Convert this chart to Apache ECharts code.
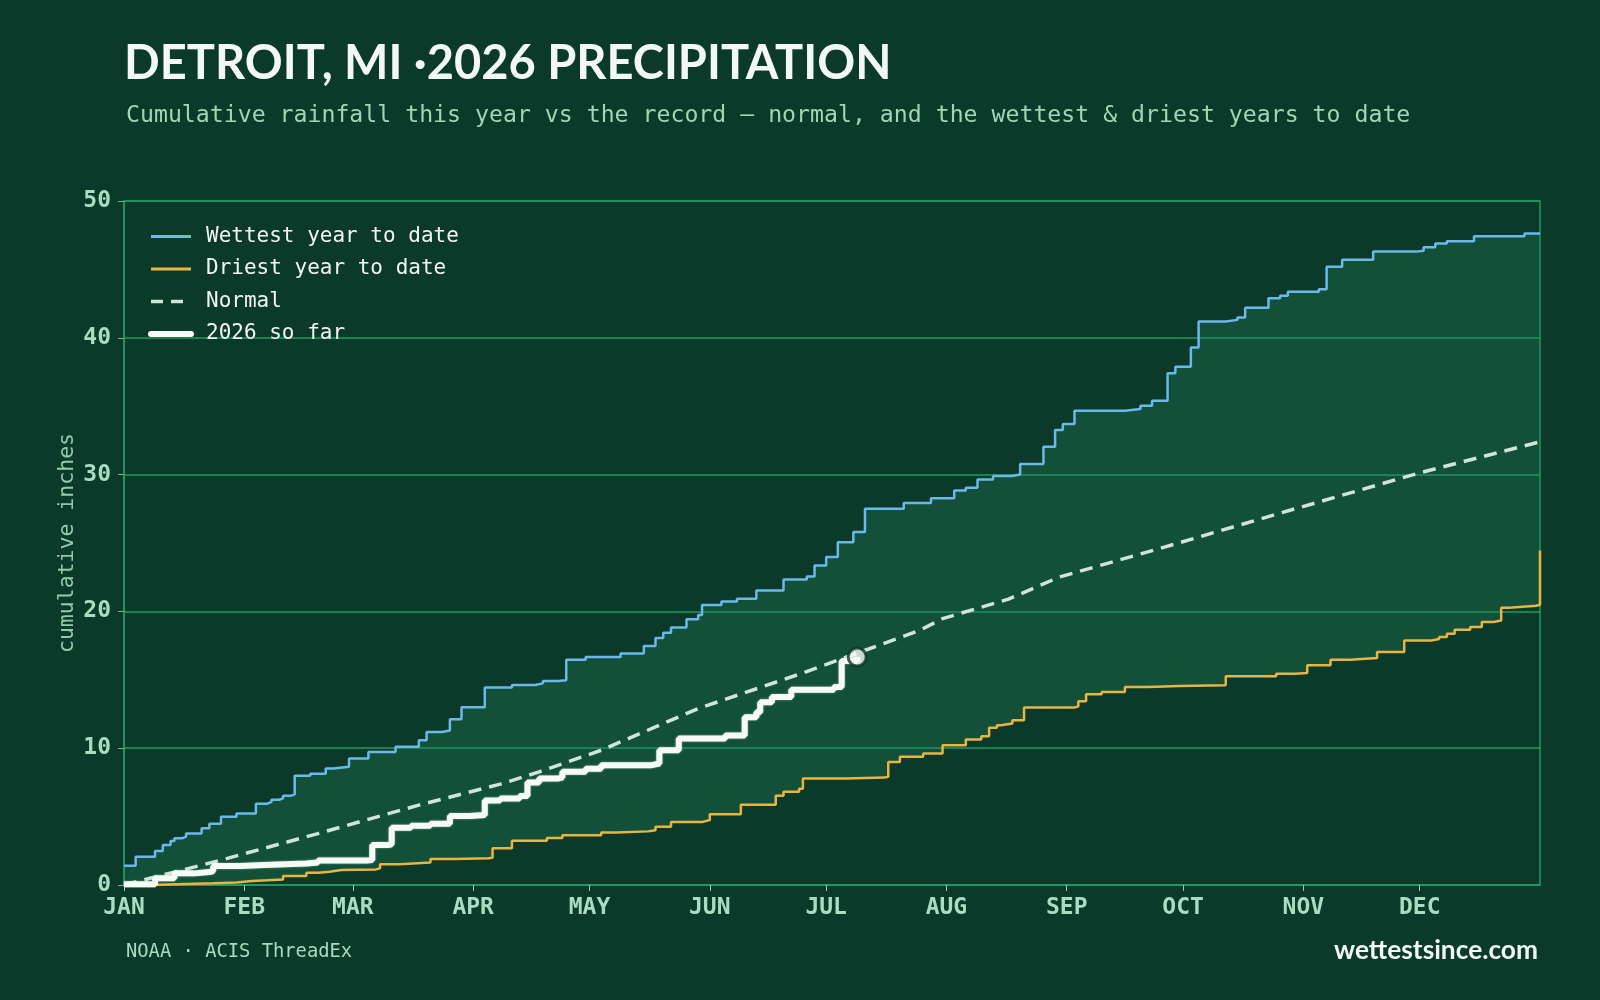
<!DOCTYPE html>
<html>
<head>
	<title>detroit precipitation</title>
	<meta charset="utf-8">
	<style>
		html, body {
			margin: 0;
			padding: 0;
			background: #0c3a2a;
		}
		#chart {
			width: 1600px;
			height: 1000px;
		}
	</style>
	<script src="https://cdn.jsdelivr.net/npm/echarts@6/dist/echarts.min.js"></script>
</head>
<body>

<div id="chart"></div>

<script>

var monthNames = ['JAN', 'FEB', 'MAR', 'APR', 'MAY', 'JUN', 'JUL', 'AUG', 'SEP', 'OCT', 'NOV', 'DEC'];
var monthStartDays = [0, 31, 59, 90, 120, 151, 181, 212, 243, 273, 304, 334];
var yTicks = [0, 10, 20, 30, 40, 50];

// [day of year, cumulative inches after that day's rain]
var wettestYear = [[0, 1.4], [3, 2.07], [8, 2.48], [10, 2.92], [12, 3.21], [13, 3.41], [15, 3.53], [16, 3.77], [20, 4.14], [22, 4.48], [25, 4.99], [29, 5.23], [34, 5.94], [37, 6.08], [38, 6.23], [40, 6.33], [41, 6.52], [43, 6.62], [44, 7.98], [48, 8.13], [52, 8.52], [54, 8.64], [58, 9.25], [63, 9.73], [70, 10.1], [76, 10.58], [78, 11.19], [82, 11.29], [84, 12.12], [87, 13.0], [93, 14.43], [100, 14.62], [106, 14.74], [108, 14.91], [112, 14.96], [114, 16.47], [119, 16.67], [128, 16.93], [134, 17.47], [137, 18.05], [139, 18.44], [141, 18.83], [145, 19.42], [148, 19.73], [149, 20.46], [154, 20.73], [158, 20.92], [163, 21.53], [170, 22.34], [176, 22.55], [178, 23.36], [181, 23.97], [184, 25.06], [188, 25.8], [191, 27.5], [201, 27.93], [208, 28.27], [214, 28.83], [217, 29.03], [220, 29.64], [224, 29.9], [229, 30.0], [231, 30.78], [237, 32.04], [240, 33.26], [242, 33.7], [245, 34.67], [258, 34.79], [262, 35.04], [265, 35.4], [269, 37.4], [271, 37.88], [275, 39.3], [277, 41.19], [284, 41.31], [287, 41.48], [289, 42.2], [295, 42.9], [298, 43.07], [300, 43.36], [308, 43.55], [310, 45.2], [314, 45.7], [322, 46.3], [333, 46.37], [335, 46.62], [338, 46.89], [341, 47.06], [348, 47.42], [361, 47.62], [365, 47.62]];

var driestYear = [[0, 0], [7, 0.07], [16, 0.12], [23, 0.19], [29, 0.29], [33, 0.34], [37, 0.41], [41, 0.66], [47, 0.9], [50, 0.97], [53, 1.09], [56, 1.14], [65, 1.22], [66, 1.51], [71, 1.65], [79, 1.9], [85, 1.95], [94, 2.0], [95, 2.68], [100, 3.24], [109, 3.43], [113, 3.63], [123, 3.84], [127, 3.92], [135, 4.01], [137, 4.26], [141, 4.6], [149, 4.74], [151, 5.18], [159, 5.86], [168, 6.52], [170, 6.81], [174, 7.03], [175, 7.79], [186, 7.85], [196, 7.91], [197, 9.0], [200, 9.37], [206, 9.61], [211, 10.22], [217, 10.63], [221, 10.88], [223, 11.5], [225, 11.68], [226, 11.8], [229, 12.04], [232, 12.97], [245, 13.07], [246, 13.43], [248, 13.94], [252, 14.11], [258, 14.48], [264, 14.55], [272, 14.6], [284, 15.26], [297, 15.45], [302, 15.5], [305, 16.06], [311, 16.47], [316, 16.6], [323, 17.03], [330, 17.88], [337, 17.98], [339, 18.13], [341, 18.37], [343, 18.66], [347, 18.86], [350, 19.22], [353, 19.34], [355, 20.27], [357, 20.41], [364, 20.49], [365, 24.45]];

var normalYear = [[0, 0], [25, 1.82], [50, 3.76], [76, 5.84], [97, 7.37], [107, 8.27], [123, 9.85], [148, 12.9], [174, 15.4], [205, 18.6], [211, 19.47], [228, 20.9], [241, 22.5], [262, 24.2], [267, 24.6], [297, 27.1], [333, 30.05], [365, 32.4]];

var thisYear = [[0, 0.05], [8, 0.49], [13, 0.85], [18, 0.95], [22, 1.02], [23, 1.39], [30, 1.47], [36, 1.58], [47, 1.65], [50, 1.8], [63, 1.82], [64, 2.92], [68, 2.97], [69, 4.18], [74, 4.33], [79, 4.48], [84, 5.04], [89, 5.11], [93, 6.18], [97, 6.33], [102, 6.5], [104, 7.5], [107, 7.79], [112, 7.85], [113, 8.27], [119, 8.5], [123, 8.76], [136, 8.88], [138, 9.85], [143, 10.7], [155, 10.92], [160, 12.27], [163, 12.62], [164, 13.35], [167, 13.75], [172, 14.28], [183, 14.48], [185, 16.37], [189, 16.67]];

var today = [[189, 16.67]];

var green = '#1c9a64';
var labelGreen = '#a9dcc0';
var mono = '"DejaVu Sans Mono", monospace';

// step-end outline: hold the previous total until the next rain day
function stepPoints (points) {
	var out = [];
	points.forEach(function (p, i) {
		if (i > 0) {
			out.push([p[0], points[i - 1][1]]);
		}
		out.push(p);
	});
	return out;
}

var chart = echarts.init(document.getElementById('chart'));

var option = {
	backgroundColor: '#0c3a2a',
	animation: false,
	title: [
		{
			text: 'DETROIT, MI ·2026 PRECIPITATION',
			left: 119,
			top: 35,
			textStyle: { fontFamily: 'Lato', fontWeight: 700, fontSize: 47, color: '#f2f8f4' }
		},
		{
			text: 'Cumulative rainfall this year vs the record — normal, and the wettest & driest years to date',
			left: 121,
			top: 99,
			textStyle: { fontFamily: mono, fontWeight: 400, fontSize: 23.2, color: '#9fd6b6' }
		},
		{
			text: 'NOAA · ACIS ThreadEx',
			left: 121,
			top: 938,
			textStyle: { fontFamily: mono, fontWeight: 400, fontSize: 18.8, color: '#a9dcc0' }
		},
		{
			text: 'wettestsince.com',
			right: 57,
			top: 933,
			textStyle: { fontFamily: 'Lato', fontWeight: 700, fontSize: 26.3, color: '#f2f8f4' }
		}
	],
	legend: {
		data: [
			{ name: 'Wettest year to date', lineStyle: { width: 3 } },
			{ name: 'Driest year to date', lineStyle: { width: 3 } },
			{ name: 'Normal', lineStyle: { width: 3.5, type: [12, 8] } },
			{ name: '2026 so far', lineStyle: { width: 6, cap: 'round' } }
		],
		orient: 'vertical',
		left: 143,
		top: 221,
		itemWidth: 40,
		itemHeight: 14,
		itemGap: 11.5,
		itemStyle: { opacity: 0 },
		textStyle: { fontFamily: mono, fontSize: 21, color: '#f2f6f3', padding: [0, 0, 0, 10] }
	},
	grid: {
		left: 124,
		right: 60,
		top: 201,
		bottom: 115,
		show: true,
		borderColor: green,
		borderWidth: 1.5,
		backgroundColor: 'transparent'
	},
	xAxis: {
		type: 'value',
		min: 0,
		max: 365,
		splitLine: { show: false },
		axisLine: { show: true, lineStyle: { color: green, width: 1.5 } },
		axisTick: {
			show: true,
			length: 6,
			customValues: monthStartDays,
			lineStyle: { color: '#9fc9b2' }
		},
		axisLabel: {
			customValues: monthStartDays,
			margin: 12,
			fontFamily: mono,
			fontWeight: 700,
			fontSize: 23,
			color: labelGreen,
			formatter: function (value) {
				var i = monthStartDays.indexOf(value);
				return i >= 0 ? monthNames[i] : '';
			}
		}
	},
	yAxis: {
		type: 'value',
		min: yTicks[0],
		max: yTicks[yTicks.length - 1],
		interval: 10,
		name: 'cumulative inches',
		nameLocation: 'middle',
		nameRotate: 90,
		nameGap: 46,
		nameMoveOverlap: false,
		nameTextStyle: { fontFamily: mono, fontSize: 21.5, color: '#8fcbaa' },
		axisLine: { show: true, lineStyle: { color: green, width: 1.5 } },
		axisTick: { show: true, length: 6, lineStyle: { color: '#8fa89a' } },
		axisLabel: {
			margin: 13,
			fontFamily: mono,
			fontWeight: 700,
			fontSize: 23,
			color: labelGreen
		},
		splitLine: { show: true, lineStyle: { color: green, width: 1.5 } }
	},
	series: [
		{
			name: 'band',
			type: 'custom',
			silent: true,
			z: 1,
			data: [[0, 0]],
			renderItem: function (params, api) {
				var top = stepPoints(wettestYear);
				var bottom = stepPoints(driestYear).reverse();
				var pts = top.concat(bottom).map(function (p) {
					return api.coord(p);
				});
				return {
					type: 'polygon',
					shape: { points: pts },
					style: { fill: 'rgba(34, 130, 90, 0.31)' }
				};
			}
		},
		{
			name: 'Driest year to date',
			type: 'line',
			step: 'end',
			symbol: 'none',
			z: 3,
			data: driestYear,
			lineStyle: { color: '#e9b542', width: 2.5 },
			itemStyle: { color: '#e9b542' }
		},
		{
			name: 'Wettest year to date',
			type: 'line',
			step: 'end',
			symbol: 'none',
			z: 3,
			data: wettestYear,
			lineStyle: { color: '#6cb8ea', width: 2.5 },
			itemStyle: { color: '#6cb8ea' }
		},
		{
			name: 'Normal',
			type: 'line',
			symbol: 'none',
			z: 4,
			data: normalYear,
			lineStyle: { color: '#cfe6d6', width: 3.5, type: [13, 8] },
			itemStyle: { color: '#cfe6d6' }
		},
		{
			name: '2026 so far',
			type: 'line',
			step: 'end',
			symbol: 'none',
			z: 5,
			data: thisYear,
			lineStyle: { color: '#f6fbf7', width: 6, shadowColor: 'rgba(200, 240, 215, 0.6)', shadowBlur: 2 },
			itemStyle: { color: '#f6fbf7' }
		},
		{
			name: 'today',
			type: 'scatter',
			z: 6,
			symbol: 'circle',
			symbolSize: 18,
			data: today,
			itemStyle: { color: '#f6fbf7', borderColor: '#0e3526', borderWidth: 3 }
		}
	]
};

chart.setOption(option);

</script>
</body>
</html>
